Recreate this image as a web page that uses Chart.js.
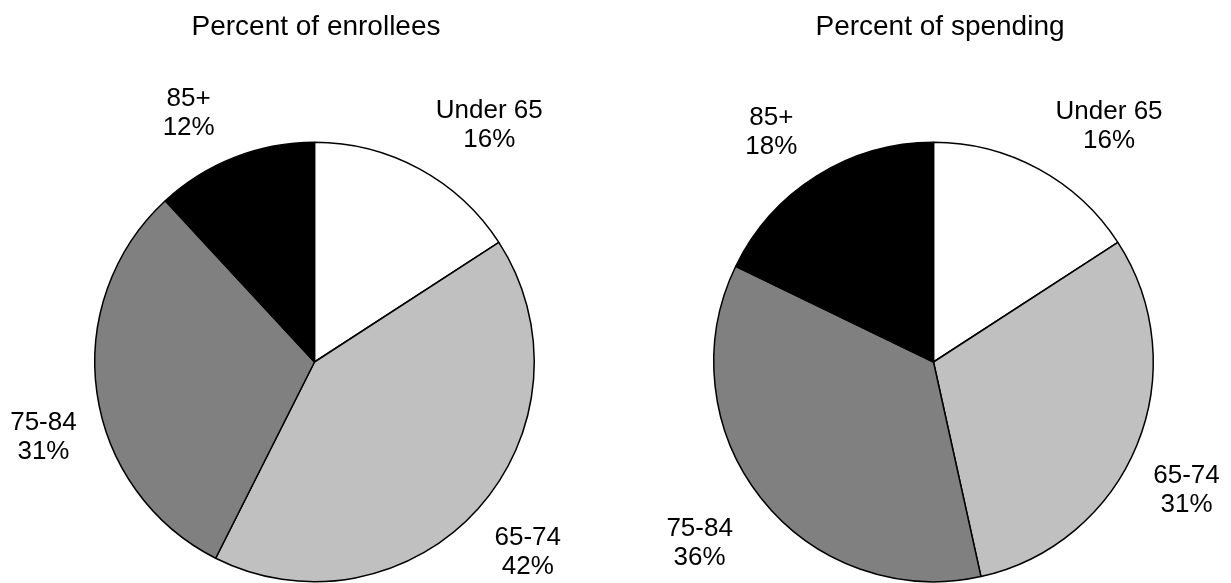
<!DOCTYPE html>
<html>
<head>
<meta charset="utf-8">
<script src="https://cdn.jsdelivr.net/npm/chart.js@4.4.1/dist/chart.umd.min.js"></script>
<style>
  html, body { margin: 0; padding: 0; background: #fff; overflow: hidden; }
  #wrap { position: relative; width: 1231px; height: 583px; overflow: hidden; }
  .box { position: absolute; top: 0; height: 620px; }
  #boxL { left: 0; width: 615px; }
  #boxR { left: 615px; width: 616px; }
</style>
</head>
<body>
<div id="wrap">
  <div class="box" id="boxL"><canvas id="cL"></canvas></div>
  <div class="box" id="boxR"><canvas id="cR"></canvas></div>
</div>
<script>
// ---- data ----
const categories = ["Under 65", "65-74", "75-84", "85+"];
const enrolleesPct = [16, 42, 31, 12];
const spendingPct = [16, 31, 36, 18];
const titleEnrollees = "Percent of enrollees";
const titleSpending = "Percent of spending";

// ---- style ----
const sliceColors = ["#FFFFFF", "#C0C0C0", "#808080", "#000000"];
const FONT = "'Liberation Sans', Arial, Helvetica, sans-serif";
// label placement in polar terms: angle (deg clockwise from top), distance in radii
const labelPolarL = [[36.4, 1.34], [131.7, 1.30], [254.5, 1.28], [333.2, 1.27]];
const labelPolarR = [[36.6, 1.34], [116.8, 1.29], [232.3, 1.345], [324.8, 1.28]];

function labelPlugin(title, titleX, polar) {
  return {
    id: 'pieLabels',
    afterDraw(chart) {
      const ctx = chart.ctx;
      const meta = chart.getDatasetMeta(0);
      const vals = chart.data.datasets[0].data;
      const arc0 = meta.data[0];
      const cx = arc0.x, cy = arc0.y, r = arc0.outerRadius;
      ctx.save();
      ctx.fillStyle = '#000';
      ctx.textAlign = 'center';
      ctx.textBaseline = 'alphabetic';
      ctx.font = '28px ' + FONT;
      ctx.fillText(title, titleX, 35);
      ctx.font = '26px ' + FONT;
      ctx.textBaseline = 'middle';
      meta.data.forEach((arc, i) => {
        const a = polar[i][0] * Math.PI / 180;
        const d = polar[i][1] * r;
        const x = cx + Math.sin(a) * d;
        const y = cy - Math.cos(a) * d;
        ctx.fillText(chart.data.labels[i], x, y - 14);
        ctx.fillText(vals[i] + '%', x, y + 15);
      });
      ctx.restore();
    }
  };
}

function makePie(id, values, title, titleX, polar, pad) {
  return new Chart(document.getElementById(id), {
    type: 'pie',
    data: {
      labels: categories,
      datasets: [{
        data: values,
        backgroundColor: sliceColors,
        borderColor: '#000',
        borderWidth: 1.5
      }]
    },
    options: {
      responsive: true,
      maintainAspectRatio: false,
      animation: false,
      layout: { padding: pad },
      plugins: { legend: { display: false }, tooltip: { enabled: false }, title: { display: false } }
    },
    plugins: [labelPlugin(title, titleX, polar)]
  });
}

makePie('cL', enrolleesPct, titleEnrollees, 316, labelPolarL, { left: 94, right: 80, top: 141, bottom: 37 });
makePie('cR', spendingPct, titleSpending, 325, labelPolarR, { left: 98, right: 77, top: 141, bottom: 37 });
</script>
</body>
</html>
